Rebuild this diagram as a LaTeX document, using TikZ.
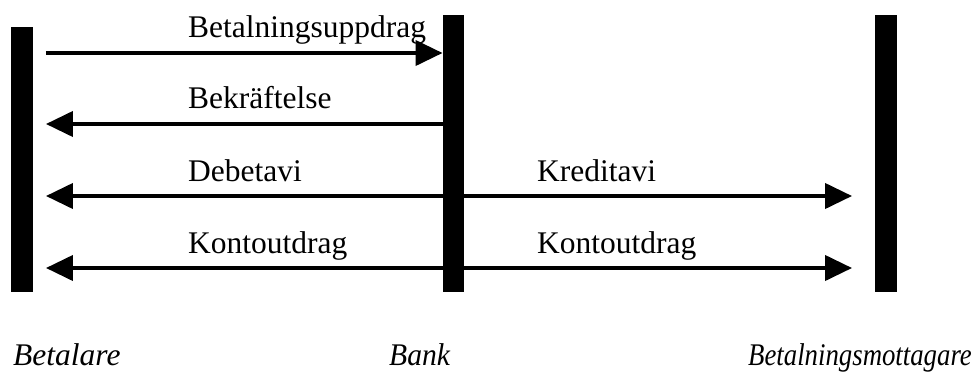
\documentclass[tikz,border=0pt]{standalone}
\usepackage{fontspec}
\setmainfont{Liberation Serif}
\usepackage{tikz}
\usetikzlibrary{arrows.meta, positioning}

\begin{document}
\begin{tikzpicture}[
    x=1pt, y=-1pt,
    font=\fontsize{31.5}{36}\selectfont,
    >={Triangle[length=27pt, width=25pt]},
    bar/.style={fill=black, inner sep=0pt, minimum width=21.5pt, minimum height=#1},
    msg/.style={->, line width=4pt},
    lbl/.style={anchor=base west, inner sep=0pt},
    party/.style={inner sep=0pt, font=\fontsize{31.5}{36}\selectfont\itshape},
]
\useasboundingbox (0,0) rectangle (979,372);
%% Parties
\node[bar=265pt] (payer) at (22, 159.5)  {};
\node[bar=277pt] (bank)  at (453.5, 153.5) {};
\node[bar=277pt] (payee) at (886, 153.5) {};
%% Arrows
\coordinate (m1) at (0, 53);
\coordinate (m2) at (0, 124);
\coordinate (m3) at (0, 196);
\coordinate (m4) at (0, 268);
\draw[msg] ([xshift=13pt]payer.east |- m1) -- (bank.west |- m1);
\draw[msg] (bank.west |- m2) -- ([xshift=13pt]payer.east |- m2);
\draw[msg] (bank.center |- m3) -- ([xshift=13pt]payer.east |- m3);
\draw[msg] (bank.center |- m4) -- ([xshift=13pt]payer.east |- m4);
\draw[msg] (bank.center |- m3) -- ([xshift=-23pt]payee.west |- m3);
\draw[msg] (bank.center |- m4) -- ([xshift=-23pt]payee.west |- m4);
%% Labels
\node[lbl] (l1) at (188, 37)  {Betalningsuppdrag};
\node[lbl] (l2) at (188, 108) {Bekräftelse};
\node[lbl] (l3) at (188, 181) {Debetavi};
\node[lbl] (l4) at (188, 253) {Kontoutdrag};
\node[lbl] (r3) at (537, 181) {Kreditavi};
\node[lbl] (r4) at (537, 253) {Kontoutdrag};
\node[party, anchor=base west] (payer name) at (13, 365)  {Betalare};
\node[party, anchor=base west] (bank name)  at (389, 365) {\scalebox{0.94}[1]{Bank}};
\node[party, anchor=base east] (payee name) at (972, 365) {\scalebox{0.85}[1]{Betalningsmottagare}};
\end{tikzpicture}
\end{document}
